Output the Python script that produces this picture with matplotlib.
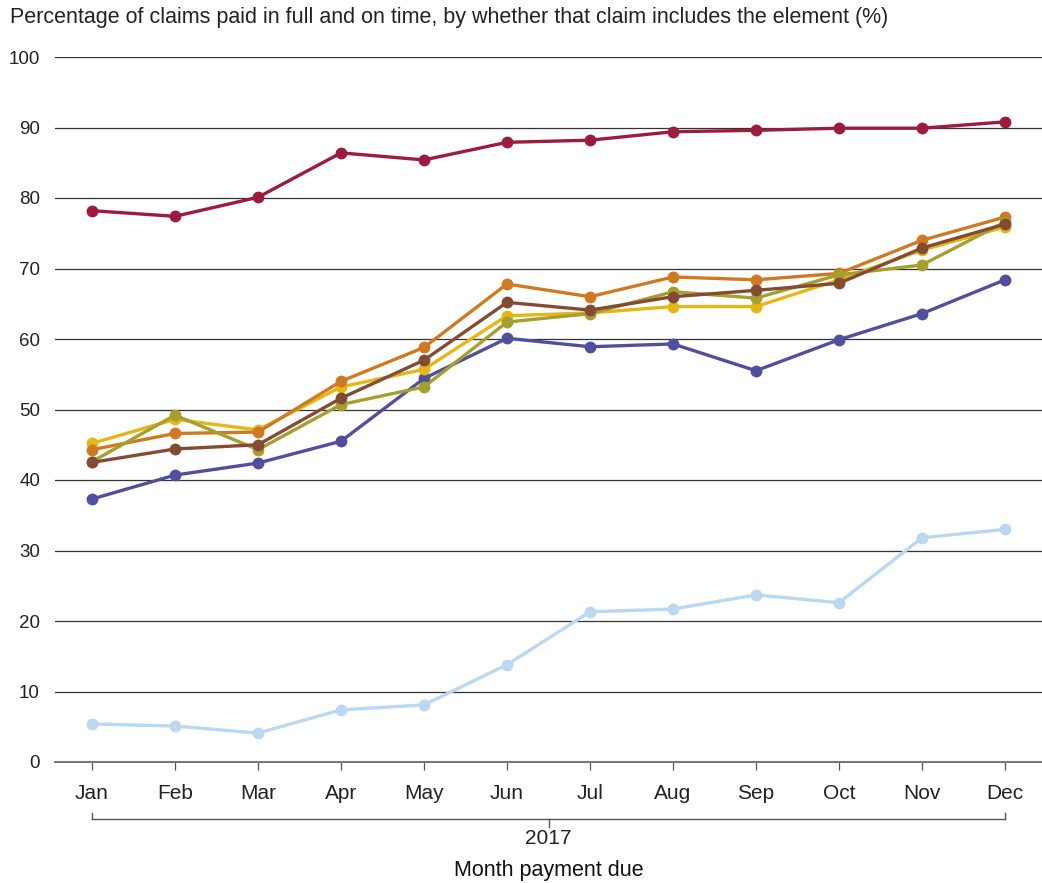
import matplotlib
matplotlib.use("Agg")
import matplotlib.pyplot as plt
import matplotlib.transforms as mtransforms

plt.rcParams['font.family'] = ['Liberation Sans', 'DejaVu Sans']

months = ["Jan", "Feb", "Mar", "Apr", "May", "Jun", "Jul", "Aug", "Sep", "Oct", "Nov", "Dec"]
yticks = [0, 10, 20, 30, 40, 50, 60, 70, 80, 90, 100]

light_blue = [5.4, 5.1, 4.1, 7.4, 8.1, 13.8, 21.3, 21.7, 23.7, 22.6, 31.8, 33.0]
red = [78.2, 77.4, 80.1, 86.4, 85.4, 87.9, 88.2, 89.4, 89.6, 89.9, 89.9, 90.8]
purple = [37.3, 40.7, 42.4, 45.5, 54.4, 60.1, 58.9, 59.3, 55.5, 59.9, 63.6, 68.4]
yellow = [45.2, 48.6, 47.1, 53.2, 55.7, 63.3, 63.7, 64.6, 64.6, 68.4, 72.6, 75.9]
orange = [44.3, 46.6, 46.8, 54.0, 58.8, 67.8, 66.0, 68.8, 68.4, 69.3, 74.0, 77.3]
olive = [42.6, 49.2, 44.3, 50.7, 53.2, 62.4, 63.6, 66.7, 65.8, 69.1, 70.5, 76.6]
brown = [42.5, 44.4, 45.0, 51.6, 57.0, 65.2, 64.1, 66.0, 66.9, 67.9, 72.9, 76.3]

series = [
    (light_blue, "#bcd7f1"),
    (red, "#9c1c3d"),
    (purple, "#4f4f9d"),
    (yellow, "#e2b716"),
    (orange, "#cf7a22"),
    (olive, "#a59f30"),
    (brown, "#844b32"),
]

fig = plt.figure(figsize=(10.42, 8.83), dpi=100)
ax = fig.add_axes([55/1042, 1 - 762/883, 987/1042, 705/883])

x = list(range(len(months)))
for vals, col in series:
    ax.plot(x, vals, color=col, lw=2.4, marker='o', markersize=7.5,
            solid_capstyle='round', zorder=3)

ax.set_xlim(-0.446, 11.446)
ax.set_ylim(0, 100)
ax.set_yticks(yticks)
ax.set_yticklabels([str(v) for v in yticks])
ax.yaxis.grid(True, color='#333333', lw=0.9)
ax.set_axisbelow(True)
for s in ['top', 'right', 'left']:
    ax.spines[s].set_visible(False)
ax.spines['bottom'].set_color('#777777')
ax.spines['bottom'].set_linewidth(1.5)
ax.tick_params(axis='y', length=0, pad=10.8, labelsize=13.5, colors='#222222')
ax.set_xticks(x)
ax.set_xticklabels(months)
ax.tick_params(axis='x', length=6, width=0.9, color='#555555', pad=10, labelsize=15,
               labelcolor='#222222')

trans = mtransforms.blended_transform_factory(ax.transData, ax.transAxes)
yb = -0.0813
ax.plot([0, 11], [yb, yb], color='#555555', lw=1.0, transform=trans, clip_on=False)
ax.plot([0, 0], [yb, yb + 0.009], color='#555555', lw=1.0, transform=trans, clip_on=False)
ax.plot([11, 11], [yb, yb + 0.009], color='#555555', lw=1.0, transform=trans, clip_on=False)
ax.plot([5.5, 5.5], [yb, yb - 0.011], color='#555555', lw=1.0, transform=trans, clip_on=False)
ax.text(5.5, -0.108, "2017", transform=trans, ha='center', va='center', fontsize=15, color='#222222')
ax.text(5.5, -0.1535, "Month payment due", transform=trans, ha='center', va='center',
        fontsize=15.5, color='#111111')

fig.text(10/1042, 1 - 18/883,
         "Percentage of claims paid in full and on time, by whether that claim includes the element (%)",
         ha='left', va='center', fontsize=15.5, color='#222222')

fig.savefig("out.png", dpi=100)
